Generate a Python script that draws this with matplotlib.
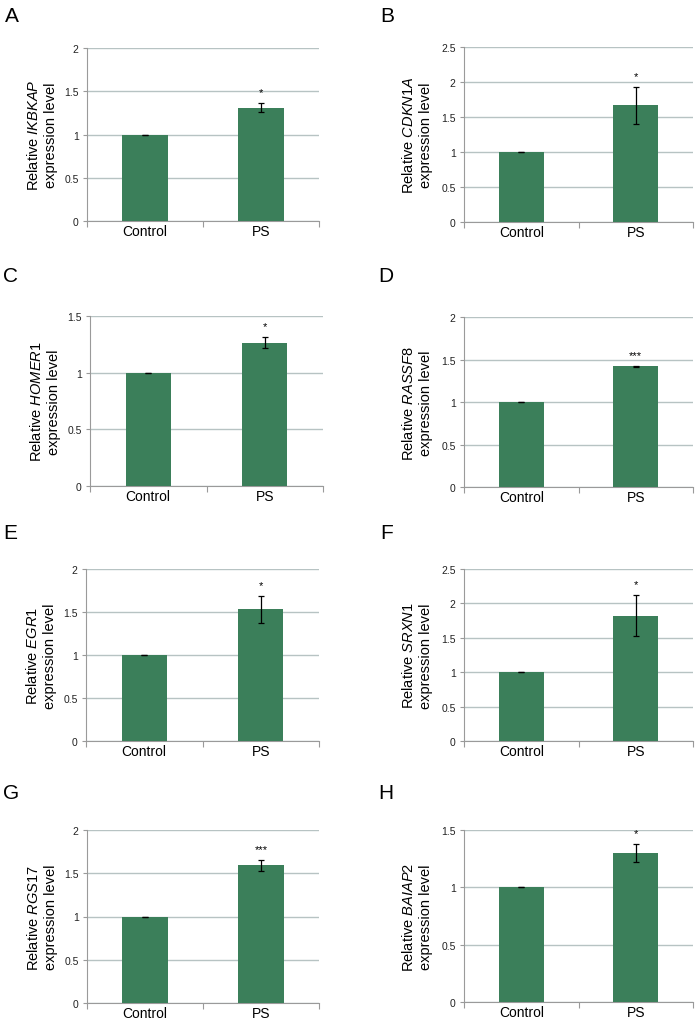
import matplotlib
matplotlib.use("Agg")
import matplotlib.pyplot as plt
import numpy as np

plt.rcParams['font.family'] = ['Liberation Sans', 'DejaVu Sans']
plt.rcParams['mathtext.fontset'] = 'custom'
plt.rcParams['mathtext.rm'] = 'Liberation Sans'
plt.rcParams['mathtext.it'] = 'Liberation Sans:italic'

# ---- data ----
panel_letters = ['A', 'B', 'C', 'D', 'E', 'F', 'G', 'H']
genes = ['IKBKAP', 'CDKN1A', 'HOMER1', 'RASSF8', 'EGR1', 'SRXN1', 'RGS17', 'BAIAP2']
categories = ['Control', 'PS']
control_means = [1.0, 1.0, 1.0, 1.0, 1.0, 1.0, 1.0, 1.0]
control_errs = [0.0, 0.0, 0.0, 0.0, 0.0, 0.0, 0.0, 0.0]
ps_means = [1.31, 1.665, 1.265, 1.42, 1.53, 1.82, 1.59, 1.30]
ps_errs = [0.052, 0.265, 0.047, 0.004, 0.155, 0.295, 0.06, 0.079]
y_max = [2.0, 2.5, 1.5, 2.0, 2.0, 2.5, 2.0, 1.5]
stars = ['*', '*', '*', '***', '*', '*', '***', '*']

W, H = 698, 1020
fig = plt.figure(figsize=(W / 100, H / 100), dpi=100)

# axes rectangles in pixels (left, top, right, bottom)
rects = [
    (87, 49, 319, 222),
    (464, 48, 693, 223),
    (90, 317, 323, 487),
    (464, 318, 693, 488),
    (86, 570, 319, 742),
    (464, 570, 693, 742),
    (87, 831, 319, 1004),
    (464, 831, 693, 1003),
]
letter_pos = [(5, 7), (380, 7), (3, 267), (378, 267), (3, 524), (380, 524), (3, 784), (378, 784)]

bar_color = '#3b7f5a'
grid_color = '#b7c3c3'
spine_color = '#9a9a9a'

for i in range(8):
    l, t, r, b = rects[i]
    ax = fig.add_axes([l / W, 1 - b / H, (r - l) / W, (b - t) / H])
    x = np.arange(len(categories))
    vals = [control_means[i], ps_means[i]]
    errs = [control_errs[i], ps_errs[i]]
    ax.bar(x, vals, width=0.39, color=bar_color, zorder=3)
    ax.errorbar(x, vals, yerr=errs, fmt='none', ecolor='black', elinewidth=0.9,
                capsize=2.3, capthick=0.9, zorder=4)
    ax.text(x[1], vals[1] + errs[1] + 0.035 * y_max[i], stars[i], ha='center', va='bottom',
            fontsize=8, zorder=5)
    ax.set_xlim(-0.5, 1.5)
    ax.set_ylim(0, y_max[i])
    ticks = np.arange(0, y_max[i] + 0.001, 0.5)
    ax.set_yticks(ticks)
    ax.set_yticklabels(['%g' % v for v in ticks], fontsize=7.5, color='#222222')
    ax.set_xticks(x)
    ax.set_xticklabels(categories, fontsize=10)
    ax.set_xticks([-0.5, 0.5, 1.5], minor=True)
    ax.tick_params(axis='x', which='major', length=0, pad=2)
    ax.tick_params(axis='x', which='minor', length=4, color=spine_color, width=0.8)
    ax.tick_params(axis='y', length=3, color=spine_color, width=0.8, pad=3)
    ax.yaxis.grid(True, color=grid_color, linewidth=1.0, zorder=0)
    ax.set_axisbelow(True)
    for s in ['top', 'right']:
        ax.spines[s].set_visible(False)
    for s in ['left', 'bottom']:
        ax.spines[s].set_color(spine_color)
        ax.spines[s].set_linewidth(0.8)
    # y label
    cx = l - (45 if i % 2 == 0 else 47)
    cy = (t + b) / 2
    fig.text(cx / W, 1 - cy / H, 'Relative $\\mathit{%s}$\nexpression level' % genes[i],
             rotation=90, ha='center', va='center', fontsize=10.5, linespacing=1.25)
    # panel letter
    lx, ly = letter_pos[i]
    fig.text(lx / W, 1 - ly / H, panel_letters[i], ha='left', va='top', fontsize=15)

fig.savefig('out.png', dpi=100)
